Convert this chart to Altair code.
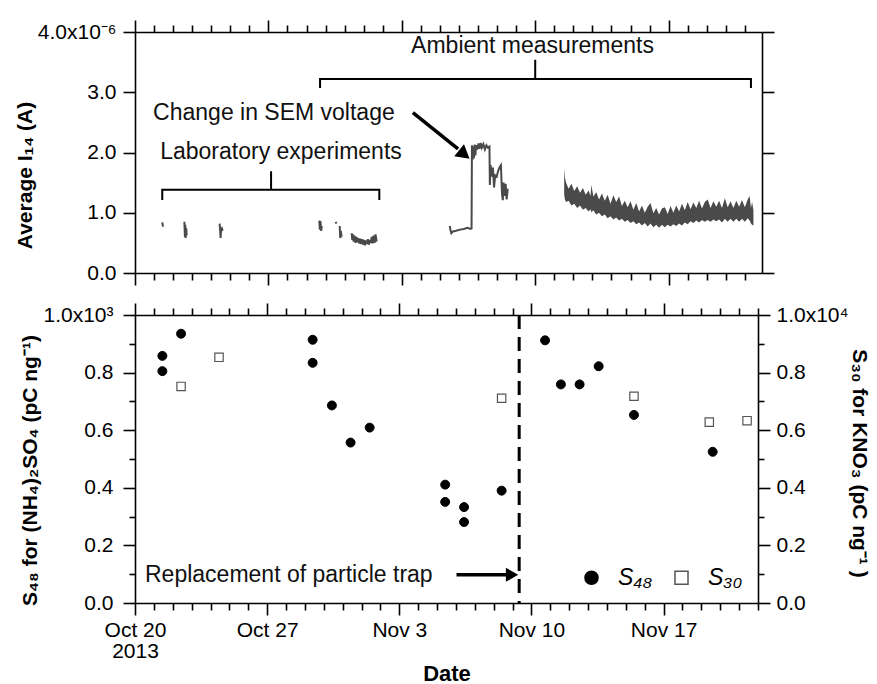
import altair as alt
import pandas as pd

FONT = "Liberation Sans"
GRAY = "#4a4a4a"

# x values everywhere: days after 2013-10-20 00:00
# ---------------- Top panel: average I14 (units of 1e-6 A) ----------------
lab1_day = [1.43, 1.47]
lab1_val = [0.84, 0.77]
lab2_day = [2.59, 2.62, 2.64, 2.66, 2.69, 2.71]
lab2_val = [0.85, 0.60, 0.80, 0.58, 0.74, 0.62]
lab3_day = [4.44, 4.47, 4.49, 4.52, 4.56, 4.60]
lab3_val = [0.82, 0.70, 0.58, 0.72, 0.74, 0.70]
lab4_day = [9.67, 9.70, 9.73, 9.77, 9.80]
lab4_val = [0.87, 0.72, 0.86, 0.70, 0.78]
lab5_day = [10.53, 10.57]
lab5_val = [0.85, 0.82]
lab6_day = [10.74, 10.77, 10.80, 10.84]
lab6_val = [0.78, 0.58, 0.70, 0.60]
lab7_day = [11.37, 11.40, 11.44, 11.47, 11.52, 11.57, 11.62, 11.67, 11.72, 11.77,
            11.82, 11.87, 11.92, 11.97, 12.02, 12.07, 12.12, 12.17, 12.22, 12.27,
            12.32, 12.37, 12.42, 12.47, 12.52, 12.57, 12.62, 12.68]
lab7_val = [0.66, 0.55, 0.64, 0.52, 0.62, 0.50, 0.60, 0.51, 0.58, 0.49,
            0.57, 0.48, 0.56, 0.47, 0.55, 0.46, 0.54, 0.48, 0.56, 0.47,
            0.55, 0.50, 0.60, 0.49, 0.62, 0.50, 0.64, 0.52]
mid_day = [16.52, 16.56, 16.60, 16.68, 16.85, 17.05, 17.25, 17.45, 17.60, 17.66,
           17.68, 17.71, 17.74, 17.78, 17.82, 17.86, 17.90, 17.96, 18.02, 18.08,
           18.14, 18.20, 18.28, 18.36, 18.44, 18.52, 18.60, 18.62, 18.66, 18.72,
           18.78, 18.84, 18.90, 18.98, 19.06, 19.14, 19.20, 19.26, 19.30, 19.34,
           19.40, 19.45, 19.50, 19.56]
mid_val = [0.78, 0.70, 0.66, 0.69, 0.70, 0.72, 0.73, 0.75, 0.73, 0.74,
           2.12, 1.88, 2.10, 1.90, 2.13, 1.95, 2.12, 2.05, 2.15, 2.06,
           2.16, 2.08, 2.14, 2.05, 2.12, 2.08, 2.10, 1.46, 1.79, 1.60,
           1.75, 1.42, 1.62, 1.60, 1.70, 1.76, 1.79, 1.30, 1.21, 1.50,
           1.28, 1.48, 1.22, 1.40]

amb_day = [22.52, 22.56, 22.62, 22.75, 22.9, 23.05, 23.2, 23.35, 23.5, 23.65,
           23.8, 23.9, 23.95, 24.05, 24.2, 24.35, 24.5, 24.65, 24.8, 24.95,
           25.1, 25.25, 25.4, 25.55, 25.7, 25.85, 26.0, 26.15, 26.3, 26.45,
           26.6, 26.75, 26.9, 27.05, 27.2, 27.35, 27.5, 27.65, 27.8, 27.95,
           28.1, 28.25, 28.4, 28.55, 28.7, 28.85, 29.0, 29.15, 29.3, 29.45,
           29.6, 29.75, 29.9, 30.05, 30.2, 30.35, 30.5, 30.65, 30.8, 30.95,
           31.1, 31.25, 31.4, 31.55, 31.7, 31.85, 32.0, 32.15, 32.25, 32.32,
           32.38, 32.45]
amb_hi = [1.74, 1.58, 1.50, 1.40, 1.48, 1.36, 1.44, 1.33, 1.41, 1.30,
          1.37, 1.28, 1.46, 1.27, 1.34, 1.22, 1.32, 1.20, 1.30, 1.15,
          1.29, 1.18, 1.27, 1.11, 1.20, 1.09, 1.19, 1.05, 1.16, 1.02,
          1.12, 1.00, 1.10, 1.16, 0.99, 1.08, 0.97, 1.07, 1.09, 0.98,
          1.11, 1.00, 1.12, 1.02, 1.15, 1.04, 1.18, 1.06, 1.17, 1.08,
          1.20, 1.07, 1.18, 1.22, 1.08, 1.19, 1.10, 1.20, 1.08, 1.24,
          1.09, 1.19, 1.08, 1.20, 1.10, 1.21, 1.09, 1.22, 1.28, 1.08,
          1.18, 1.04]
amb_lo = [1.30, 1.22, 1.18, 1.20, 1.12, 1.15, 1.08, 1.12, 1.05, 1.08,
          1.02, 1.06, 1.01, 1.04, 0.97, 1.00, 0.94, 0.97, 0.91, 0.94,
          0.89, 0.92, 0.87, 0.90, 0.85, 0.88, 0.83, 0.86, 0.81, 0.84,
          0.79, 0.83, 0.77, 0.82, 0.76, 0.80, 0.75, 0.80, 0.76, 0.80,
          0.77, 0.81, 0.78, 0.82, 0.79, 0.84, 0.81, 0.86, 0.83, 0.87,
          0.84, 0.88, 0.85, 0.88, 0.85, 0.89, 0.86, 0.89, 0.84, 0.90,
          0.85, 0.90, 0.85, 0.90, 0.85, 0.90, 0.85, 0.91, 0.87, 0.82,
          0.80, 0.79]

# top-panel annotations (data units)
top_text = ["Ambient measurements", "Change in SEM voltage", "Laboratory experiments"]
top_text_day = [20.86, 7.29, 7.66]
top_text_val = [3.76, 2.65, 2.01]
lab_bracket_day = [1.43, 1.43, 7.14, 7.14, 7.14, 12.82, 12.82]
lab_bracket_val = [1.21, 1.38, 1.38, 1.69, 1.38, 1.38, 1.21]
amb_bracket_day = [9.71, 9.71, 21.0, 21.0, 21.0, 32.32, 32.32]
amb_bracket_val = [3.07, 3.22, 3.22, 3.54, 3.22, 3.22, 3.07]
sem_arrow_day = [14.58, 16.95]
sem_arrow_val = [2.66, 2.06]
sem_head_day = [17.19]
sem_head_val = [1.99]

# ---------------- Bottom panel ----------------
s48_day = [1.45, 1.45, 2.44, 9.41, 9.41, 10.43, 11.42, 12.43, 16.43, 16.43,
           17.43, 17.43, 19.42, 21.72, 22.56, 23.55, 24.56, 26.43, 30.60]
s48_val = [858, 805, 935, 914, 834, 686, 557, 609, 411, 351,
           333, 281, 390, 912, 759, 759, 822, 653, 525]          # pC ng-1
s30_day = [2.44, 4.45, 19.42, 26.43, 30.42, 32.42]
s30_val = [7520, 8530, 7110, 7180, 6280, 6330]                  # pC ng-1
trap_day = [20.35]
trap_text = ["Replacement of particle trap"]
trap_text_day = [0.53]
trap_text_val = [97]
trap_arrow_day = [17.03, 19.75]
trap_arrow_val = [98, 98]
trap_head_day = [19.97]
trap_head_val = [98]

series_names = ["S\u2084\u2088", "S\u2083\u2080"]
date_label_days = [0, 7, 14, 21, 28]
date_label_text = [["Oct 20", "2013"], "Oct 27", "Nov 3", "Nov 10", "Nov 17"]

# ---------------- build tables ----------------
segs = [("a", lab1_day, lab1_val), ("b", lab2_day, lab2_val), ("c", lab3_day, lab3_val),
        ("d", lab4_day, lab4_val), ("e", lab5_day, lab5_val), ("f", lab6_day, lab6_val),
        ("g", lab7_day, lab7_val), ("m", mid_day, mid_val)]
i14_df = pd.concat([pd.DataFrame({"day": d, "val": v, "seg": s}) for s, d, v in segs])
amb_df = pd.DataFrame({"day": amb_day, "lo": amb_lo, "hi": amb_hi})
ttext_df = pd.DataFrame({"day": top_text_day, "val": top_text_val, "label": top_text})
br_df = pd.concat([
    pd.DataFrame({"day": lab_bracket_day, "val": lab_bracket_val, "name": "lab", "ord": range(7)}),
    pd.DataFrame({"day": amb_bracket_day, "val": amb_bracket_val, "name": "amb", "ord": range(7)}),
])
sem_df = pd.DataFrame({"day": sem_arrow_day, "val": sem_arrow_val})
semh_df = pd.DataFrame({"day": sem_head_day, "val": sem_head_val})

s48_df = pd.DataFrame({"day": s48_day, "s": s48_val, "series": series_names[0]})
s30_df = pd.DataFrame({"day": s30_day, "s": s30_val, "series": series_names[1]})
rule_df = pd.DataFrame({"day": trap_day})
trt_df = pd.DataFrame({"day": trap_text_day, "val": trap_text_val, "label": trap_text})
tra_df = pd.DataFrame({"day": trap_arrow_day, "val": trap_arrow_val})
trh_df = pd.DataFrame({"day": trap_head_day, "val": trap_head_val})

# ---------------- scales & axes ----------------
X_TOP = alt.Scale(domain=[0, 32.9], nice=False, zero=False)
X_BOT = alt.Scale(domain=[0, 33.0], nice=False, zero=False)
Y_TOP = alt.Scale(domain=[0, 4], nice=False)
Y_L = alt.Scale(domain=[0, 1000], nice=False)
Y_R = alt.Scale(domain=[0, 10000], nice=False)

TK = dict(ticks=True, tickColor="black", tickWidth=1.6, tickOpacity=1,
          domainColor="black", domainWidth=1.6, grid=False)
MINOR = dict(labels=False, title=None, domain=False, ticks=True, tickColor="black",
             tickWidth=1.6, tickOpacity=1, grid=False)

week_days_top = [d for d in range(0, 33) if d % 7 == 0]
other_days_top = [d for d in range(0, 33) if d % 7 != 0]
week_days_bot = [d for d in range(0, 34) if d % 7 == 0]
other_days_bot = [d for d in range(0, 34) if d % 7 != 0]

# top panel axes
ax_tb = alt.Axis(orient="bottom", values=week_days_top, labels=False, title=None, tickSize=12, **TK)
ax_tb_m = alt.Axis(orient="bottom", values=other_days_top, tickSize=7, **MINOR)
ax_tt = alt.Axis(orient="top", values=week_days_top, labels=False, title=None, tickSize=12, **TK)
ax_tt_m = alt.Axis(orient="top", values=other_days_top, tickSize=7, **MINOR)
ax_tl = alt.Axis(orient="left", values=[0, 1, 2, 3, 4], tickSize=12, labelPadding=7,
                 labelExpr="datum.value === 4 ? '4.0x10\u207b\u2076' : format(datum.value, '.1f')",
                 title="Average I\u2081\u2084 (A)", titleX=-110, titleY=143,
                 titleAngle=-90, titleAlign="center", titleBaseline="middle", **TK)
ax_tr = alt.Axis(orient="right", values=[0, 1, 2, 3, 4], labels=False, tickSize=12, title=None, **TK)

# bottom panel axes
expr = "''"
for d, t in reversed(list(zip(date_label_days, date_label_text))):
    tt = "[" + ",".join("'%s'" % p for p in t) + "]" if isinstance(t, list) else "'%s'" % t
    expr = "datum.value === %d ? %s : (%s)" % (d, tt, expr)

ax_bb = alt.Axis(orient="bottom", values=week_days_bot, labelExpr=expr, tickSize=12,
                 labelPadding=4, labelLineHeight=21, title="Date", titleY=70,
                 titleBaseline="middle", titleFontSize=22, **TK)
ax_bb_m = alt.Axis(orient="bottom", values=other_days_bot, tickSize=7, **MINOR)
ax_bt = alt.Axis(orient="top", values=week_days_bot, labels=False, title=None, tickSize=12, **TK)
ax_bt_m = alt.Axis(orient="top", values=other_days_bot, tickSize=7, **MINOR)
ax_bl = alt.Axis(orient="left", values=list(range(0, 1001, 200)), tickSize=12, labelPadding=10,
                 labelExpr="datum.value === 1000 ? '1.0x10\u00b3' : format(datum.value/1000, '.1f')",
                 title="S\u2084\u2088 for (NH\u2084)\u2082SO\u2084 (pC ng\u207b\u00b9)",
                 titleX=-105, titleY=155, titleAngle=-90, titleAlign="center",
                 titleBaseline="middle", **TK)
ax_bl_m = alt.Axis(orient="left", values=list(range(100, 1000, 200)), tickSize=6, **MINOR)
ax_br = alt.Axis(orient="right", values=list(range(0, 10001, 2000)), tickSize=12, labelPadding=6,
                 labelExpr="datum.value === 10000 ? '1.0x10\u2074' : format(datum.value/10000, '.1f')",
                 title="S\u2083\u2080 for KNO\u2083 (pC ng\u207b\u00b9 )",
                 titleX=100, titleY=148, titleAngle=90, titleAlign="center",
                 titleBaseline="middle", **TK)
ax_br_m = alt.Axis(orient="right", values=list(range(1000, 10000, 2000)), tickSize=6, **MINOR)

# ---------------- top chart ----------------
def tx(axis):
    return alt.X("day:Q", scale=X_TOP, axis=axis)


def ty(field, axis):
    return alt.Y(field, scale=Y_TOP, axis=axis)


t_line = alt.Chart(i14_df).mark_line(color=GRAY, strokeWidth=2).encode(
    x=tx(ax_tb), y=ty("val:Q", ax_tl), detail="seg:N")
t_area = alt.Chart(amb_df).mark_area(color=GRAY, opacity=1).encode(
    x=tx(ax_tt), y=ty("lo:Q", ax_tr), y2="hi:Q")
t_br = alt.Chart(br_df).mark_line(color="black", strokeWidth=2).encode(
    x=tx(ax_tb_m), y=ty("val:Q", None), detail="name:N", order="ord:Q")
t_arrow = alt.Chart(sem_df).mark_line(color="black", strokeWidth=3.5).encode(
    x=tx(ax_tt_m), y=ty("val:Q", None))
t_head = alt.Chart(semh_df).mark_point(shape="triangle", filled=True, color="black",
                                       opacity=1, size=240, angle=129).encode(
    x=tx(None), y=ty("val:Q", None))
t_text = alt.Chart(ttext_df).mark_text(font=FONT, fontSize=23, color="#111",
                                       align="center", baseline="middle").encode(
    x=tx(None), y=ty("val:Q", None), text="label:N")
top = alt.layer(t_line, t_area, t_br, t_arrow, t_head, t_text).resolve_axis(
    x="independent", y="independent").properties(width=627, height=241)

# ---------------- bottom chart ----------------
def bx(axis):
    return alt.X("day:Q", scale=X_BOT, axis=axis)


shape_scale = alt.Scale(domain=series_names, range=["circle", "square"])
fill_scale = alt.Scale(domain=series_names, range=["black", "white"])
stroke_scale = alt.Scale(domain=series_names, range=["black", "#555555"])
leg = alt.Legend(title=None, orient="none", legendX=445, legendY=534, direction="horizontal",
                 symbolSize=170, symbolStrokeWidth=1.5, labelFontSize=23, labelFont=FONT,
                 labelFontStyle="italic", labelOffset=15, columnPadding=17, padding=0,
                 labelColor="black")

b_rule = alt.Chart(rule_df).mark_rule(color="black", strokeWidth=3, strokeDash=[14, 8]).encode(
    x=bx(None))
b_arrow = alt.Chart(tra_df).mark_line(color="black", strokeWidth=3.5).encode(
    x=bx(ax_bb_m), y=alt.Y("val:Q", scale=Y_L, axis=ax_bl_m))
b_head = alt.Chart(trh_df).mark_point(shape="triangle-right", filled=True, color="black",
                                      opacity=1, size=200).encode(
    x=bx(ax_bt_m), y=alt.Y("val:Q", scale=Y_L, axis=None))
b_text = alt.Chart(trt_df).mark_text(font=FONT, fontSize=23, color="#111",
                                     align="left", baseline="middle").encode(
    x=bx(None), y=alt.Y("val:Q", scale=Y_L, axis=None), text="label:N")
b_s30_ghost = alt.Chart(s30_df).mark_point(opacity=0).encode(
    x=bx(None), y=alt.Y("s:Q", scale=Y_R, axis=ax_br_m))
b_s48 = alt.Chart(s48_df).mark_point(filled=True, size=80, opacity=1, strokeWidth=1).encode(
    x=bx(ax_bb),
    y=alt.Y("s:Q", scale=Y_L, axis=ax_bl),
    shape=alt.Shape("series:N", scale=shape_scale, legend=leg),
    fill=alt.Fill("series:N", scale=fill_scale, legend=leg),
    stroke=alt.Stroke("series:N", scale=stroke_scale, legend=leg))
b_s30 = alt.Chart(s30_df).mark_point(filled=True, size=70, opacity=1, strokeWidth=1.2).encode(
    x=bx(ax_bt),
    y=alt.Y("s:Q", scale=Y_R, axis=ax_br),
    shape=alt.Shape("series:N", scale=shape_scale, legend=leg),
    fill=alt.Fill("series:N", scale=fill_scale, legend=leg),
    stroke=alt.Stroke("series:N", scale=stroke_scale, legend=leg))
bottom = alt.layer(b_rule, b_arrow, b_head, b_text, b_s30_ghost, b_s48, b_s30).resolve_scale(
    y="independent").resolve_axis(x="independent", y="independent").properties(
    width=623, height=288)

chart = alt.vconcat(top, bottom, spacing=16).properties(
    padding={"left": 14, "top": 19, "right": 5, "bottom": 2}
).configure_axis(
    labelFont=FONT, labelFontSize=21, labelColor="black",
    titleFont=FONT, titleFontSize=21, titleFontWeight="bold", titleColor="black",
    labelOverlap=False, labelFlush=False
).configure_view(stroke=None)

chart.save("out.html", embed_options={"renderer": "svg", "actions": False})
